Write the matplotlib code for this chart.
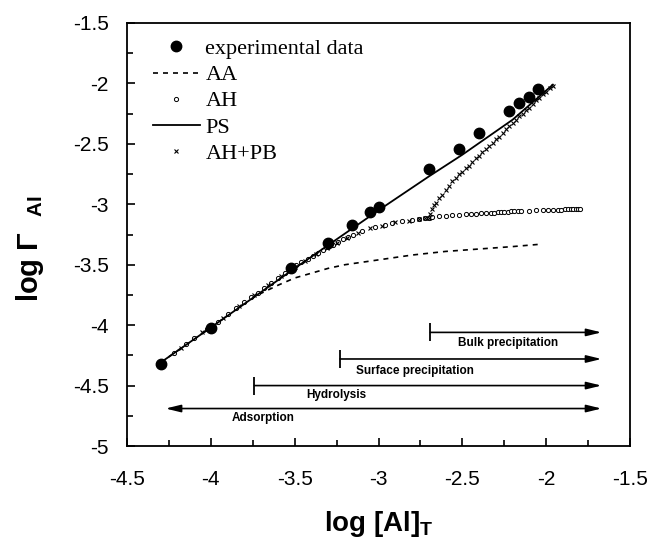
import matplotlib
matplotlib.use("Agg")
import matplotlib.pyplot as plt
from matplotlib.ticker import MultipleLocator, FuncFormatter

plt.rcParams["font.family"] = ["Liberation Sans", "DejaVu Sans"]
plt.rcParams["axes.unicode_minus"] = False
plt.rcParams["mathtext.fontset"] = "custom"
plt.rcParams["mathtext.rm"] = "Liberation Sans:bold"
plt.rcParams["mathtext.bf"] = "Liberation Sans:bold"

# experimental data
exp_x = [-4.30, -4.00, -3.52, -3.30, -3.16, -3.05, -3.00, -2.70, -2.52, -2.40,
         -2.22, -2.16, -2.10, -2.05]
exp_y = [-4.32, -4.02, -3.53, -3.32, -3.17, -3.06, -3.02, -2.71, -2.54, -2.41,
         -2.23, -2.16, -2.11, -2.05]

# AA model (dashed)
aa_x = [-4.30, -4.00, -3.80, -3.72, -3.60, -3.50, -3.40, -3.30, -3.20, -3.00,
        -2.80, -2.60, -2.40, -2.20, -2.03]
aa_y = [-4.31, -4.02, -3.82, -3.75, -3.67, -3.61, -3.57, -3.53, -3.50, -3.46,
        -3.42, -3.39, -3.37, -3.35, -3.33]

# PS model (solid)
ps_x = [-4.30, -4.00, -3.50, -3.00, -2.70, -2.50, -2.20, -1.96]
ps_y = [-4.31, -4.02, -3.53, -3.05, -2.77, -2.59, -2.30, -2.01]

# AH model (small circles)
ah_x = [-4.30, -4.22, -4.15, -4.10, -4.02, -3.96, -3.90, -3.85, -3.80, -3.76,
        -3.72, -3.68, -3.64, -3.60, -3.56, -3.52, -3.49, -3.46, -3.42, -3.39,
        -3.36, -3.33, -3.30, -3.27, -3.24, -3.21, -3.18, -3.15, -3.10, -3.02,
        -2.96, -2.92, -2.86, -2.80, -2.76, -2.72, -2.70, -2.68, -2.64, -2.60,
        -2.56, -2.52, -2.48, -2.45, -2.42, -2.39, -2.36, -2.33, -2.31, -2.29,
        -2.27, -2.25, -2.23, -2.21, -2.19, -2.17, -2.15, -2.10, -2.06, -2.02,
        -1.99, -1.96, -1.93, -1.91, -1.89, -1.87, -1.85, -1.84, -1.82, -1.81,
        -1.80]
ah_y = [-4.31, -4.23, -4.16, -4.11, -4.03, -3.97, -3.91, -3.86, -3.81, -3.77,
        -3.73, -3.69, -3.65, -3.61, -3.57, -3.535, -3.505, -3.48, -3.45, -3.425,
        -3.40, -3.38, -3.355, -3.335, -3.31, -3.29, -3.27, -3.25, -3.225, -3.19,
        -3.17, -3.155, -3.14, -3.13, -3.12, -3.115, -3.11, -3.105, -3.10, -3.095,
        -3.09, -3.085, -3.08, -3.08, -3.078, -3.075, -3.072, -3.07, -3.068, -3.066,
        -3.064, -3.062, -3.06, -3.058, -3.056, -3.055, -3.054, -3.052, -3.05, -3.048,
        -3.047, -3.046, -3.045, -3.044, -3.043, -3.042, -3.041, -3.041, -3.04, -3.04,
        -3.04]

# AH+PB model (crosses)
pb_x = [-4.30, -4.18, -4.05, -3.93, -3.83, -3.74, -3.66, -3.58, -3.50, -3.44,
        -3.37, -3.31, -3.25, -3.19, -3.12, -3.05, -2.98, -2.90, -2.82, -2.76,
        -2.72, -2.70, -2.69, -2.68, -2.67, -2.66, -2.64, -2.62, -2.60, -2.58,
        -2.56, -2.54, -2.52, -2.50, -2.48, -2.46, -2.44, -2.42, -2.40, -2.38,
        -2.36, -2.34, -2.32, -2.30, -2.28, -2.26, -2.24, -2.22, -2.20, -2.18,
        -2.16, -2.14, -2.12, -2.10, -2.08, -2.06, -2.04, -2.02, -2.00, -1.98,
        -1.96]
pb_y = [-4.31, -4.19, -4.06, -3.94, -3.84, -3.75, -3.67, -3.59, -3.52, -3.47,
        -3.41, -3.365, -3.32, -3.28, -3.235, -3.20, -3.18, -3.15, -3.135, -3.12,
        -3.115, -3.11, -3.08, -3.04, -3.01, -2.99, -2.95, -2.92, -2.88, -2.85,
        -2.81, -2.78, -2.75, -2.73, -2.70, -2.68, -2.65, -2.62, -2.60, -2.57,
        -2.54, -2.52, -2.49, -2.46, -2.44, -2.41, -2.38, -2.35, -2.33, -2.30,
        -2.27, -2.25, -2.22, -2.20, -2.17, -2.14, -2.12, -2.09, -2.07, -2.04,
        -2.02]

# process ranges
proc_names = ["Bulk precipitation", "Surface precipitation", "Hydrolysis", "Adsorption"]
proc_start = [-2.69, -3.23, -3.74, -4.27]
proc_end = [-1.67, -1.67, -1.67, -1.67]
proc_y = [-4.06, -4.28, -4.50, -4.69]
proc_lab_x = [-2.23, -2.78, -3.25, -3.69]
proc_lab_y = [-4.15, -4.38, -4.58, -4.77]
proc_both = [False, False, False, True]

fig = plt.figure(figsize=(6.5, 5.43), dpi=100)
ax = fig.add_axes([127 / 650, 1 - 446 / 543, 503 / 650, 423 / 543])

ax.plot(exp_x, exp_y, "o", color="black", ms=7.5, label="experimental data", zorder=5)
ax.plot(aa_x, aa_y, color="black", lw=1.2, ls=(0, (3, 3)), label="AA")
ax.plot(ah_x, ah_y, "o", color="black", mfc="white", ms=3, mew=0.7, ls="none", label="AH")
ax.plot(ps_x, ps_y, "-", color="black", lw=1.3, label="PS")
ax.plot(pb_x, pb_y, "x", color="black", ms=3.5, mew=0.8, ls="none", label="AH+PB")

for name, x0, x1, y, lx, ly, both in zip(proc_names, proc_start, proc_end, proc_y,
                                         proc_lab_x, proc_lab_y, proc_both):
    style = "<|-|>" if both else "-|>"
    ax.annotate("", xy=(x1, y), xytext=(x0, y),
                arrowprops=dict(arrowstyle=style + ",head_length=0.9,head_width=0.22",
                                color="black", lw=1.2, shrinkA=0, shrinkB=0))
    if not both:
        ax.vlines(x0, y - 0.075, y + 0.075, color="black", lw=1.3)
    ax.text(lx, ly, name, ha="center", va="center", fontsize=8.5, fontweight="bold")

ax.set_xlim(-4.5, -1.5)
ax.set_ylim(-5, -1.5)
ax.xaxis.set_major_locator(MultipleLocator(0.5))
ax.xaxis.set_minor_locator(MultipleLocator(0.25))
ax.yaxis.set_major_locator(MultipleLocator(0.5))
ax.yaxis.set_minor_locator(MultipleLocator(0.25))
fmt = FuncFormatter(lambda v, p: "%g" % v)
ax.xaxis.set_major_formatter(fmt)
ax.yaxis.set_major_formatter(fmt)
ax.tick_params(which="both", direction="in", top=False, right=False, width=1.2)
ax.tick_params(which="major", length=6, labelsize=15)
ax.tick_params(which="minor", length=4)
ax.tick_params(axis="y", which="major", pad=13)
ax.tick_params(axis="x", which="major", pad=17)
for s in ax.spines.values():
    s.set_linewidth(1.3)

ax.set_xlabel(r"log [Al]$_\mathrm{T}$", fontsize=20, fontweight="bold", labelpad=15)
ax.set_ylabel(r"log $\Gamma$  $_\mathrm{AI}$", fontsize=21, fontweight="bold")
ax.yaxis.set_label_coords(-0.162, 0.466)

ax.legend(loc="upper left", bbox_to_anchor=(0.052, 0.963), frameon=False,
          prop={"family": "Liberation Serif", "size": 16}, borderpad=0,
          borderaxespad=0, labelspacing=0.25, handlelength=2.1, handletextpad=0.25)

fig.savefig("out.png", dpi=100)
